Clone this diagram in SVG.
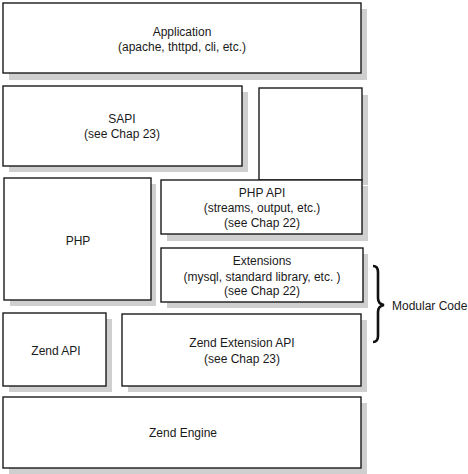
<svg xmlns="http://www.w3.org/2000/svg" width="468" height="474" viewBox="0 0 468 474">
<style>
.box{fill:#fff;stroke:#1a1a1a;stroke-width:1.4}
.sh{fill:#cfcfcf}
text{font-family:"Liberation Sans",Arial,sans-serif;font-size:12px;fill:#1a1a1a;text-anchor:middle}
</style>
<rect width="468" height="474" fill="#fff"/>
<g id="application">
<rect class="sh" x="9" y="9" width="358" height="71"/>
<rect class="box" x="3" y="3" width="358" height="70"/>
<text x="182" y="36">Application</text>
<text x="182" y="51">(apache, thttpd, cli, etc.)</text>
</g>
<g id="sapi">
<rect class="sh" x="9" y="92" width="239" height="80"/>
<rect class="box" x="3" y="86" width="239" height="80"/>
<text x="122" y="123">SAPI</text>
<text x="122" y="138">(see Chap 23)</text>
</g>
<g id="empty">
<rect class="sh" x="265" y="95" width="103" height="90"/>
<rect class="box" x="259" y="88" width="103" height="92"/>
</g>
<g id="php">
<rect class="sh" x="10" y="184" width="146" height="122"/>
<rect class="box" x="4" y="178" width="147" height="122"/>
<text x="78" y="245">PHP</text>
</g>
<g id="phpapi">
<rect class="sh" x="167" y="186" width="201" height="55"/>
<rect class="box" x="161" y="180" width="201" height="54"/>
<text x="262" y="197">PHP API</text>
<text x="262" y="212">(streams, output, etc.)</text>
<text x="262" y="227">(see Chap 22)</text>
</g>
<g id="extensions">
<rect class="sh" x="167" y="254" width="201" height="54"/>
<rect class="box" x="161" y="248" width="202" height="54"/>
<text x="262" y="265">Extensions</text>
<text x="262" y="281">(mysql, standard library, etc. )</text>
<text x="262" y="295">(see Chap 22)</text>
</g>
<g id="zendapi">
<rect class="sh" x="9" y="319" width="103" height="73"/>
<rect class="box" x="3" y="313" width="103" height="73"/>
<text x="56" y="355">Zend API</text>
</g>
<g id="zendextapi">
<rect class="sh" x="128" y="320" width="239" height="72"/>
<rect class="box" x="122" y="314" width="239" height="72"/>
<text x="242" y="347">Zend Extension API</text>
<text x="242" y="363">(see Chap 23)</text>
</g>
<g id="zendengine">
<rect class="sh" x="9" y="403" width="358" height="71"/>
<rect class="box" x="3" y="397" width="358" height="71"/>
<text x="183" y="437">Zend Engine</text>
</g>
<g id="connectors">
<path d="M373,266 Q378,266 378,272 L378,298 Q378,304 384,305 Q378,306 378,312 L378,336 Q378,342 373,342" fill="none" stroke="#111" stroke-width="2.6"/>
</g>
<g id="modular">
<text x="392" y="310" style="text-anchor:start">Modular Code</text>
</g>
</svg>
